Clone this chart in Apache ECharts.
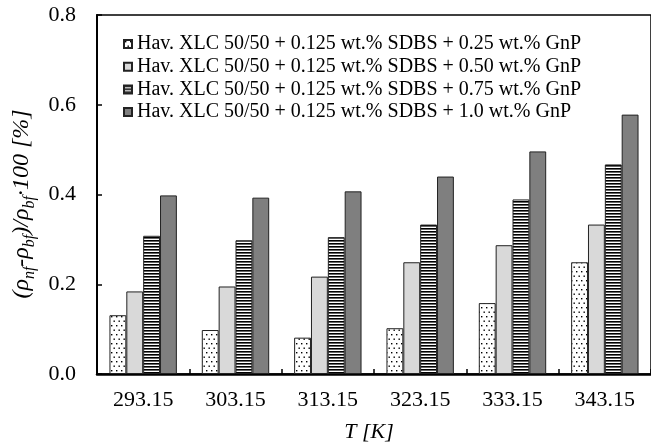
<!DOCTYPE html>
<html><head><meta charset="utf-8">
<script src="https://cdn.jsdelivr.net/npm/echarts@6/dist/echarts.min.js"></script>
<style>html,body{margin:0;padding:0;background:#fff;}#c{width:651px;height:448px;}</style>
</head><body><div id="c"></div>
<script>
const categories = ['293.15','303.15','313.15','323.15','333.15','343.15'];
const seriesNames = [
  'Hav. XLC 50/50 + 0.125 wt.% SDBS + 0.25 wt.% GnP',
  'Hav. XLC 50/50 + 0.125 wt.% SDBS + 0.50 wt.% GnP',
  'Hav. XLC 50/50 + 0.125 wt.% SDBS + 0.75 wt.% GnP',
  'Hav. XLC 50/50 + 0.125 wt.% SDBS + 1.0 wt.% GnP'
];
const gnp025 = [0.131, 0.098, 0.081, 0.102, 0.158, 0.249];
const gnp050 = [0.184, 0.195, 0.217, 0.249, 0.287, 0.333];
const gnp075 = [0.308, 0.298, 0.305, 0.333, 0.389, 0.467];
const gnp100 = [0.398, 0.393, 0.407, 0.440, 0.496, 0.578];
const yTicks = [0, 0.2, 0.4, 0.6, 0.8];

function dotPattern(){
  const c = document.createElement('canvas');
  c.width = 5; c.height = 9;
  const g = c.getContext('2d');
  g.fillStyle = '#fff'; g.fillRect(0,0,5,9);
  g.fillStyle = '#000';
  g.fillRect(1,1,1.4,1.4);
  g.fillRect(3.5,5.5,1.4,1.4);
  return c;
}
function stripePattern(){
  const c = document.createElement('canvas');
  c.width = 4; c.height = 3;
  const g = c.getContext('2d');
  g.fillStyle = '#fff'; g.fillRect(0,0,4,3);
  g.fillStyle = '#000'; g.fillRect(0,0,4,1.6);
  return c;
}
const serif = '"Liberation Serif", "Times New Roman", serif';
const fills = [
  {image: dotPattern(), repeat: 'repeat'},
  '#d9d9d9',
  {image: stripePattern(), repeat: 'repeat'},
  '#7f7f7f'
];
const datas = [gnp025, gnp050, gnp075, gnp100];

const chart = echarts.init(document.getElementById('c'), null, {renderer: 'canvas'});
chart.setOption({
  animation: false,
  backgroundColor: '#fff',
  grid: {left: 97, top: 15, width: 560, height: 359, show: true, borderColor: '#000', borderWidth: 1.5, backgroundColor: 'transparent'},
  legend: {
    orient: 'vertical', left: 118, top: 29, itemWidth: 8, itemHeight: 8, itemGap: 2.7, icon: 'rect',
    textStyle: {fontFamily: serif, fontSize: 20, color: '#000', lineHeight: 20},
    data: seriesNames
  },
  xAxis: {
    type: 'category', data: categories,
    axisLine: {lineStyle: {color: '#000', width: 2.5}},
    axisTick: {show: true, inside: true, length: 5, lineStyle: {color: '#000', width: 1.5}},
    axisLabel: {fontFamily: serif, fontSize: 22, color: '#000', margin: 15}
  },
  yAxis: {
    type: 'value', min: 0, max: 0.8, interval: 0.2,
    axisLine: {show: true, lineStyle: {color: '#000', width: 2}},
    axisTick: {show: true, inside: true, length: 5, lineStyle: {color: '#000', width: 1.5}},
    splitLine: {show: false},
    axisLabel: {fontFamily: serif, fontSize: 22, color: '#000', margin: 21, formatter: v => v.toFixed(1)}
  },
  series: datas.map((d, i) => ({
    name: seriesNames[i], type: 'bar', data: d,
    barGap: '0%', barCategoryGap: '27%',
    itemStyle: {color: fills[i], borderColor: '#222', borderWidth: 1}
  })),
  graphic: [
    {type: 'text', x: 22, y: 204, rotation: Math.PI/2,
     style: {
       text: '(ρ{s|nf}-ρ{s|bf})/ρ{s|bf}·100 [%]',
       fontFamily: serif, fontSize: 24, fontStyle: 'italic', fill: '#000', lineHeight: 32,
       align: 'center', verticalAlign: 'middle',
       rich: {s: {fontFamily: serif, fontSize: 16, fontStyle: 'italic', verticalAlign: 'bottom', lineHeight: 16}}
     }},
    {type: 'text', x: 369, y: 432,
     style: {text: 'T [K]', fontFamily: serif, fontSize: 22, fontStyle: 'italic', fill: '#000', align: 'center', verticalAlign: 'middle'}}
  ]
});
</script></body></html>
